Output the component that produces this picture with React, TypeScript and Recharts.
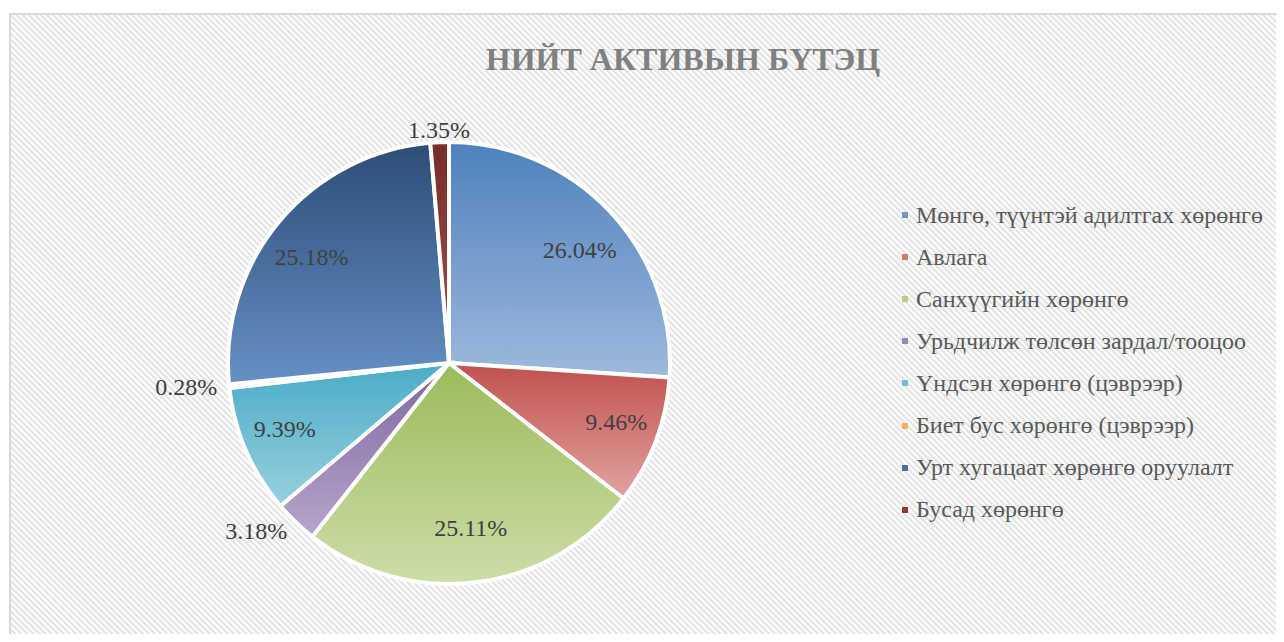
import { Cell, Legend, Pie, PieChart } from "recharts";

const categories = [
  "Мөнгө, түүнтэй адилтгах хөрөнгө",
  "Авлага",
  "Санхүүгийн хөрөнгө",
  "Урьдчилж төлсөн зардал/тооцоо",
  "Үндсэн хөрөнгө (цэврээр)",
  "Биет бус хөрөнгө (цэврээр)",
  "Урт хугацаат хөрөнгө оруулалт",
  "Бусад хөрөнгө",
];
const shares = [26.04, 9.46, 25.11, 3.18, 9.39, 0.28, 25.18, 1.35];

const TOP = ["#4F81BD", "#C0504D", "#9BBB59", "#8064A2", "#4BACC6", "#F79646", "#2C4D75", "#772C2A"];
const BOTTOM = ["#9DB9DC", "#E3A3A1", "#CDDDA9", "#B7A6CB", "#97D0DF", "#FAC090", "#6690C6", "#A5504D"];
const MARKER = ["#6E97CB", "#D27875", "#B4CC83", "#9C85B7", "#72BFD3", "#F9AB6B", "#4A70A3", "#8E3B39"];

const FONT = "Liberation Serif";
const RADIAN = Math.PI / 180;

const data = categories.map((name, i) => ({ name, value: shares[i] }));

function renderLabel(props: any) {
  const { cx, cy, midAngle, outerRadius, value } = props;
  const small = value < 5;
  const cos = Math.cos(-midAngle * RADIAN);
  const sin = Math.sin(-midAngle * RADIAN);
  const rx = small ? outerRadius + 12 : outerRadius * 0.81;
  const ry = small ? outerRadius + 12 : outerRadius * 0.75;
  const x = cx + rx * cos;
  const y = cy + ry * sin;
  let anchor: "middle" | "start" | "end" = "middle";
  if (small && Math.abs(cos) > 0.3) anchor = cos < 0 ? "end" : "start";
  return (
    <text
      x={x}
      y={y}
      textAnchor={anchor}
      dominantBaseline="central"
      fill="#404040"
      fontSize={24}
      style={{ fontFamily: FONT }}
    >
      {value.toFixed(2)}%
    </text>
  );
}

function LegendList() {
  return (
    <div style={{ fontFamily: FONT, fontSize: 24, color: "#595959" }}>
      {categories.map((name, i) => (
        <div key={name} style={{ height: 42.1, display: "flex", alignItems: "center", whiteSpace: "nowrap" }}>
          <span
            style={{
              width: 6,
              height: 6,
              background: MARKER[i],
              marginRight: 8,
              display: "inline-block",
              flex: "none",
            }}
          />
          <span>{name}</span>
        </div>
      ))}
    </div>
  );
}

export default function App() {
  return (
    <div style={{ position: "relative", width: 1284, height: 642, margin: -8, overflow: "hidden", background: "#fff" }}>
      <svg width={1284} height={642} style={{ position: "absolute", left: 0, top: 0 }}>
        <defs>
          <pattern id="hatch" width="4.3" height="4.3" patternUnits="userSpaceOnUse" patternTransform="rotate(-45)">
            <rect width="4.3" height="4.3" fill="#ffffff" />
            <rect width="2.2" height="4.3" fill="#e3e3e3" />
          </pattern>
          {TOP.map((c, i) => (
            <linearGradient key={i} id={`g${i}`} x1="0" y1="0" x2="0" y2="1">
              <stop offset="0%" stopColor={c} />
              <stop offset="100%" stopColor={BOTTOM[i]} />
            </linearGradient>
          ))}
        </defs>
        <rect x={10} y={14} width={1300} height={660} fill="url(#hatch)" stroke="#d9d9d9" strokeWidth={2} />
        <text
          x={683}
          y={70}
          textAnchor="middle"
          fontWeight="bold"
          fontSize={32}
          fill="#808080"
          style={{ fontFamily: FONT }}
        >
          НИЙТ АКТИВЫН БҮТЭЦ
        </text>
      </svg>
      <div style={{ position: "absolute", left: 0, top: 0 }}>
        <PieChart width={1284} height={642} margin={{ top: 0, right: 0, bottom: 0, left: 0 }}>
          <Pie
            data={data}
            dataKey="value"
            nameKey="name"
            cx={449}
            cy={363}
            outerRadius={221}
            startAngle={90}
            endAngle={-270}
            stroke="#ffffff"
            strokeWidth={4}
            label={renderLabel}
            labelLine={false}
            isAnimationActive={false}
          >
            {data.map((_, i) => (
              <Cell key={i} fill={`url(#g${i})`} />
            ))}
          </Pie>
          <Legend
            layout="vertical"
            align="right"
            verticalAlign="top"
            content={LegendList}
            wrapperStyle={{ left: 902, top: 194, width: 382 }}
          />
        </PieChart>
      </div>
    </div>
  );
}
